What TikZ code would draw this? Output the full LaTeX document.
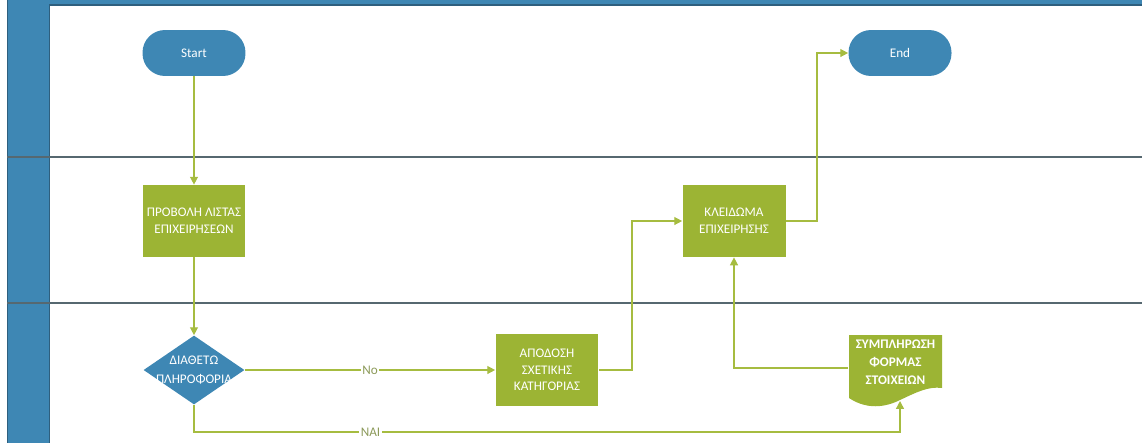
\documentclass[tikz,border=0pt]{standalone}
\usepackage{fontspec}
\setmainfont{Carlito}
\usetikzlibrary{shapes.geometric, arrows.meta, positioning}
\definecolor{laneblue}{HTML}{3E87B4}
\definecolor{laneedge}{HTML}{2E5F7E}
\definecolor{lanegray}{HTML}{566870}
\definecolor{boxgreen}{HTML}{9CB434}
\definecolor{flowgreen}{HTML}{A6BC40}
\definecolor{labelgray}{HTML}{8C9A5A}
\tikzset{
    terminal/.style={rectangle, rounded corners=0.45cm, fill=laneblue, text=white, minimum width=2.06cm, minimum height=0.92cm, inner sep=0pt, font=\fontsize{7.5}{9}\selectfont},
    process/.style={rectangle, fill=boxgreen, text=white, align=center, minimum width=2.06cm, minimum height=1.44cm, inner sep=0pt, font=\fontsize{7.5}{9.5}\selectfont},
    decision/.style={diamond, fill=laneblue, minimum width=2.02cm, minimum height=1.38cm, inner sep=0pt},
    dtext/.style={text=white, align=center, inner sep=0pt, font=\fontsize{7.5}{11}\selectfont},
    docbox/.style={rectangle, minimum width=1.88cm, minimum height=1.3cm, inner sep=0pt},
    doctext/.style={text=white, align=center, inner sep=0pt, yshift=0.11cm, font=\bfseries\fontsize{7.5}{10.2}\selectfont},
    flow/.style={draw=flowgreen, line width=0.8pt, -{Triangle[length=4.5pt, width=4.5pt]}},
    flowlabel/.style={fill=white, text=labelgray, inner sep=1pt, font=\fontsize{7.5}{9}\selectfont},
    lane/.style={draw=lanegray, line width=1.1pt}
}
\begin{document}
\begin{tikzpicture}[x=0.02cm, y=-0.02cm]
    \useasboundingbox (0,0) rectangle (1142,443);

    % pool frame and lanes
    \fill[laneblue] (7,0) rectangle (1142,5);
    \draw[laneedge, line width=0.6pt] (7,5) -- (1142,5);
    \fill[laneblue] (7,0) rectangle (49,443);
    \draw[laneedge, line width=0.5pt] (7,0) -- (7,443);
    \draw[laneedge, line width=0.5pt] (49,5) -- (49,443);
    \draw[lane] (7,157) -- (1142,157);
    \draw[lane] (7,303) -- (1142,303);

    \node[terminal] (start) at (194,53) {Start};
    \node[terminal] (end) at (900,53) {End};

    \node[process] (list) at (194,221) {ΠΡΟΒΟΛΗ ΛΙΣΤΑΣ\\ΕΠΙΧΕΙΡΗΣΕΩΝ};
    \node[process] (lock) at (734,221) {ΚΛΕΙΔΩΜΑ\\ΕΠΙΧΕΙΡΗΣΗΣ};

    \node[decision, label={[dtext]center:{ΔΙΑΘΕΤΩ\\ΠΛΗΡΟΦΟΡΙΑ}}] (info) at (194,370) {};
    \node[process] (assign) at (547,370) {ΑΠΟΔΟΣΗ\\ΣΧΕΤΙΚΗΣ\\ΚΑΤΗΓΟΡΙΑΣ};

    % document shape with wavy bottom
    \fill[boxgreen] (849,335) -- (942,335) -- (942,388)
        .. controls (928,386) and (915,393) .. (900,400)
        .. controls (890,405) and (870,412) .. (849,398) -- cycle;
    \node[docbox, label={[doctext]center:{ΣΥΜΠΛΗΡΩΣΗ\\ΦΟΡΜΑΣ\\ΣΤΟΙΧΕΙΩΝ}}] (form) at (895.5,368) {};
    \coordinate (formtip) at (900,401);

    \coordinate (naibase) at (0,432);
    \coordinate (jogA) at (632,0);
    \coordinate (jogB) at (817,0);

    % connectors
    \draw[flow] (start) -- (list);
    \draw[flow] (list) -- (info.north);
    \draw[flow] (info.east) -- node[flowlabel]{No} (assign.west);
    \draw[flow] (info.south) -- (info.south |- naibase) -- node[flowlabel, pos=0.25]{ΝΑΙ} (formtip |- naibase) -- (formtip);
    \draw[flow] (assign.east) -| (jogA |- lock.west) -- (lock.west);
    \draw[flow] (form.west) -| (lock.south);
    \draw[flow] (lock.east) -| (jogB |- end.west) -- (end.west);
\end{tikzpicture}
\end{document}
